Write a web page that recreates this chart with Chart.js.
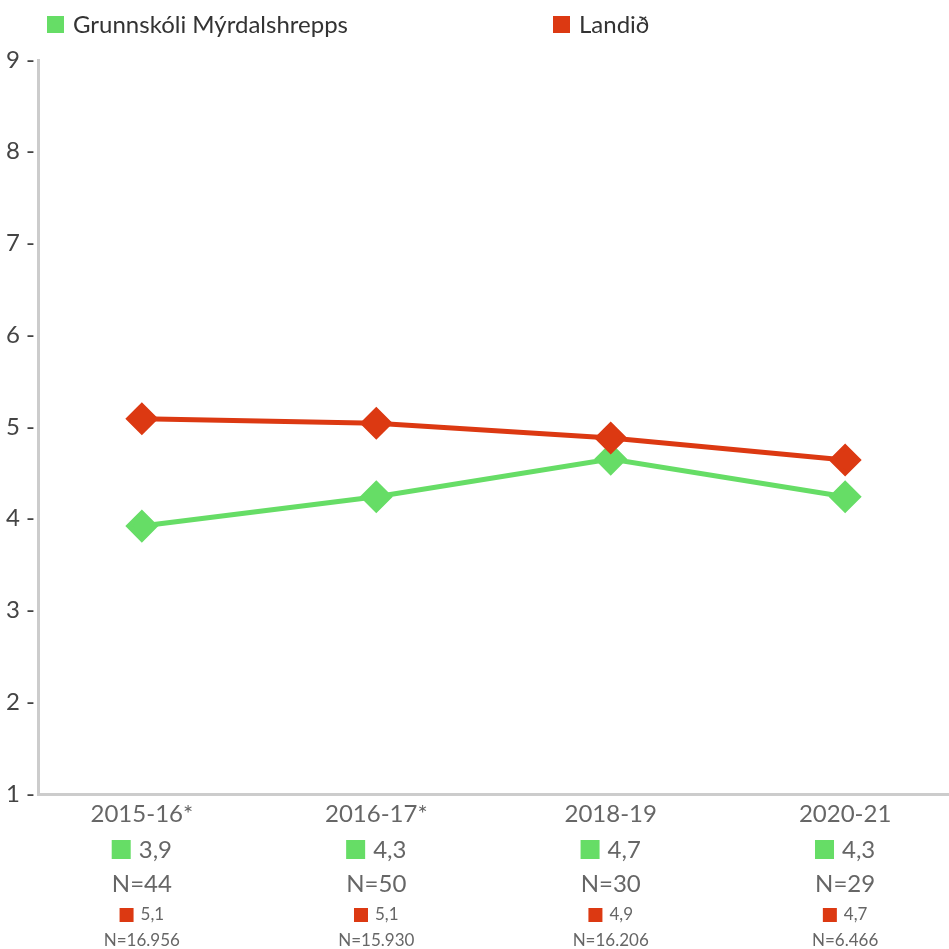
<!DOCTYPE html>
<html>
<head>
<meta charset="utf-8">
<script src="https://cdn.jsdelivr.net/npm/chart.js@4"></script>
<style>
  html, body { margin: 0; padding: 0; background: #fff; }
  #wrap { width: 949px; height: 949px; }
</style>
</head>
<body>
<div id="wrap"><canvas id="myChart" width="949" height="949"></canvas></div>
<script>
let years = ["2015-16*", "2016-17*", "2018-19", "2020-21"];
let schoolName = "Grunnskóli Mýrdalshrepps";
let countryName = "Landið";
let schoolValues = [3.92, 4.24, 4.65, 4.24];
let countryValues = [5.09, 5.04, 4.88, 4.64];
let schoolLabels = ["3,9", "4,3", "4,7", "4,3"];
let schoolN = ["N=44", "N=50", "N=30", "N=29"];
let countryLabels = ["5,1", "5,1", "4,9", "4,7"];
let countryN = ["N=16.956", "N=15.930", "N=16.206", "N=6.466"];
let yTicks = [1, 2, 3, 4, 5, 6, 7, 8, 9];

const green = "#66dd66";
const red = "#dc3912";
const font = "Lato";

// legend and labels under the axis, drawn with the x scale
const extraText = {
    id: "extraText",
    afterDraw(chart) {
        const ctx = chart.ctx;
        const x = chart.scales.x;
        ctx.save();
        ctx.textBaseline = "middle";

        // legend
        ctx.font = "24px " + font;
        ctx.fillStyle = green;
        ctx.fillRect(47, 16, 17, 17);
        ctx.fillStyle = "#333";
        ctx.textAlign = "left";
        ctx.fillText(schoolName, 73, 25);
        ctx.fillStyle = red;
        ctx.fillRect(553, 16, 17, 17);
        ctx.fillStyle = "#333";
        ctx.fillText(countryName, 579, 25);

        years.forEach((y, i) => {
            const px = x.getPixelForValue(i);
            ctx.fillStyle = "#666";
            ctx.textAlign = "center";
            ctx.font = "24px " + font;
            ctx.fillText(y, px, 814);

            // school value
            let w = ctx.measureText(schoolLabels[i]).width;
            let total = 19 + 8 + w;
            let sx = px - total / 2;
            ctx.fillStyle = green;
            ctx.fillRect(sx, 840, 19, 19);
            ctx.fillStyle = "#666";
            ctx.textAlign = "left";
            ctx.fillText(schoolLabels[i], sx + 27, 850);
            ctx.textAlign = "center";
            ctx.fillText(schoolN[i], px, 884);

            // country value
            ctx.font = "17px " + font;
            w = ctx.measureText(countryLabels[i]).width;
            total = 14 + 7 + w;
            sx = px - total / 2;
            ctx.fillStyle = red;
            ctx.fillRect(sx, 908, 14, 14);
            ctx.fillStyle = "#666";
            ctx.textAlign = "left";
            ctx.fillText(countryLabels[i], sx + 21, 915);
            ctx.textAlign = "center";
            ctx.fillText(countryN[i], px, 941);
        });
        ctx.restore();
    }
};

new Chart("myChart", {
    type: "line",
    data: {
        datasets: [{
            label: schoolName,
            data: schoolValues.map((v, i) => ({ x: i, y: v })),
            borderColor: green,
            backgroundColor: green,
            borderWidth: 5,
            pointStyle: "rectRot",
            pointRadius: 13,
            pointHoverRadius: 13,
            order: 2
        }, {
            label: countryName,
            data: countryValues.map((v, i) => ({ x: i, y: v })),
            borderColor: red,
            backgroundColor: red,
            borderWidth: 5,
            pointStyle: "rectRot",
            pointRadius: 13,
            pointHoverRadius: 13,
            order: 1
        }]
    },
    options: {
        responsive: false,
        animation: false,
        layout: { autoPadding: false, padding: { top: 60, bottom: 147, right: 0, left: 0 } },
        plugins: {
            legend: { display: false },
            tooltip: { enabled: false }
        },
        scales: {
            x: {
                type: "linear",
                min: -0.443,
                max: 3.443,
                afterBuildTicks(scale) {
                    scale.ticks = years.map((y, i) => ({ value: i }));
                },
                ticks: { display: false },
                grid: { display: false },
                border: { display: true, color: "#cccccc", width: 3 }
            },
            y: {
                min: 1,
                max: 9,
                afterBuildTicks(scale) {
                    scale.ticks = yTicks.map(v => ({ value: v }));
                },
                afterFit(scale) { scale.width = 38; },
                ticks: {
                    color: "#444",
                    font: { family: font, size: 24 },
                    padding: -5,
                    callback: v => v + " -"
                },
                grid: { display: false },
                border: { display: true, color: "#cccccc", width: 3 }
            }
        }
    },
    plugins: [extraText]
});
</script>
</body>
</html>
